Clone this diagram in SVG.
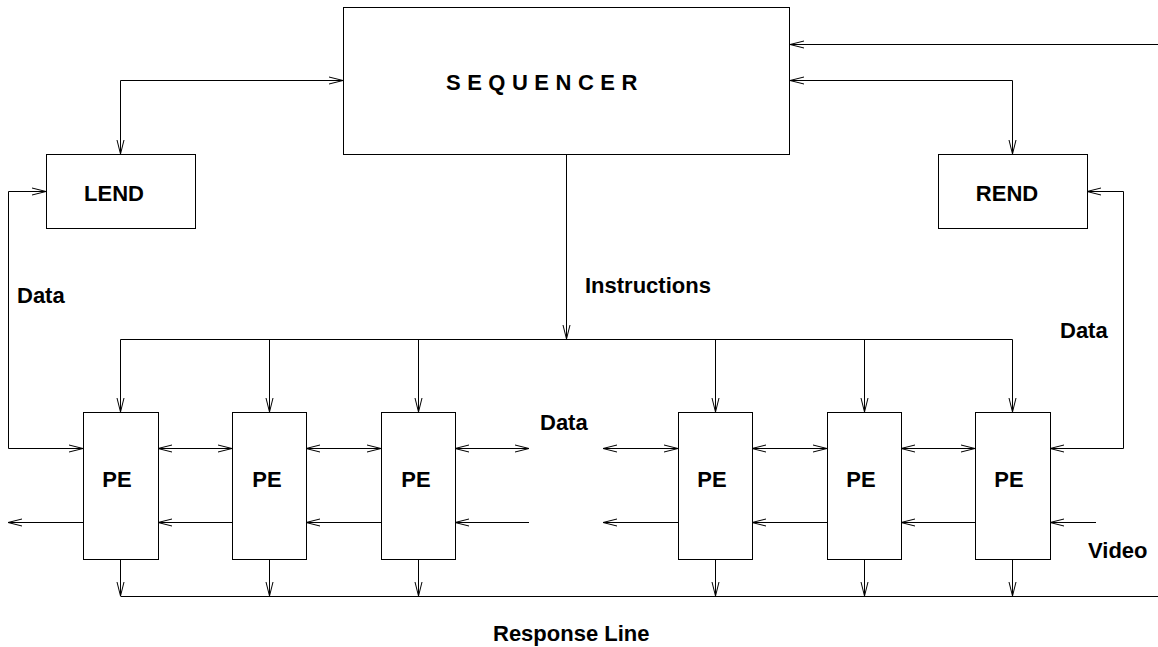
<svg xmlns="http://www.w3.org/2000/svg" width="1158" height="647" viewBox="0 0 1158 647">
<style>
.box{fill:#fff;stroke:#000;stroke-width:1}
.ln{fill:none;stroke:#000;stroke-width:1}
.a{marker-end:url(#ah)}
.aa{marker-start:url(#ah);marker-end:url(#ah)}
text{font-family:"Liberation Sans",Arial,sans-serif;font-weight:bold;font-size:22px;fill:#000}
.c{text-anchor:middle}
</style>
<defs>
<marker id="ah" markerUnits="userSpaceOnUse" viewBox="-15 -5 16 10" refX="0" refY="0" markerWidth="16" markerHeight="10" orient="auto-start-reverse">
<path d="M-14,-3.5 L0,0 L-14,3.5" fill="none" stroke="#000" stroke-width="1"/>
</marker>
</defs>
<rect width="1158" height="647" fill="#fff"/>
<g id="connectors">
<path class="ln aa" d="M343,80.5 H120.5 V154"/>
<path class="ln a" d="M1158,44.5 H790"/>
<path class="ln aa" d="M790,80.5 H1012.5 V154"/>
<path class="ln aa" d="M46,191.5 H8.5 V448.5 H83"/>
<path class="ln aa" d="M1087,191.5 H1123.5 V448.5 H1050"/>
<path class="ln a" d="M566.5,154 V339"/>
<path class="ln" d="M120.5,339.5 H1012.5"/>
<path class="ln a" d="M120.5,339.5 V412"/>
<path class="ln a" d="M269.5,339.5 V412"/>
<path class="ln a" d="M418.5,339.5 V412"/>
<path class="ln a" d="M715.5,339.5 V412"/>
<path class="ln a" d="M864.5,339.5 V412"/>
<path class="ln a" d="M1012.5,339.5 V412"/>
<path class="ln aa" d="M158,448.5 H232"/>
<path class="ln aa" d="M306,448.5 H381"/>
<path class="ln aa" d="M455,448.5 H529"/>
<path class="ln aa" d="M603,448.5 H678"/>
<path class="ln aa" d="M752,448.5 H827"/>
<path class="ln aa" d="M901,448.5 H975"/>
<path class="ln a" d="M83,522.5 H8"/>
<path class="ln a" d="M232,522.5 H158"/>
<path class="ln a" d="M381,522.5 H306"/>
<path class="ln a" d="M529,522.5 H455"/>
<path class="ln a" d="M678,522.5 H603"/>
<path class="ln a" d="M827,522.5 H752"/>
<path class="ln a" d="M975,522.5 H901"/>
<path class="ln a" d="M1096,522.5 H1050"/>
<path class="ln" d="M120.5,596.5 H1158"/>
<path class="ln a" d="M120.5,559 V596"/>
<path class="ln a" d="M269.5,559 V596"/>
<path class="ln a" d="M418.5,559 V596"/>
<path class="ln a" d="M715.5,559 V596"/>
<path class="ln a" d="M864.5,559 V596"/>
<path class="ln a" d="M1012.5,559 V596"/>
</g>
<g id="sequencer"><rect class="box" x="343.5" y="7.5" width="446" height="147"/><text x="446" y="90" letter-spacing="6.5">SEQUENCER</text></g>
<g id="lend"><rect class="box" x="46.5" y="154.5" width="149" height="74"/><text class="c" x="114" y="201">LEND</text></g>
<g id="rend"><rect class="box" x="938.5" y="154.5" width="149" height="74"/><text class="c" x="1007" y="201">REND</text></g>
<g id="pe1"><rect class="box" x="83.5" y="412.5" width="75" height="147"/><text class="c" x="117" y="487">PE</text></g>
<g id="pe2"><rect class="box" x="232.5" y="412.5" width="74" height="147"/><text class="c" x="267" y="487">PE</text></g>
<g id="pe3"><rect class="box" x="381.5" y="412.5" width="74" height="147"/><text class="c" x="416" y="487">PE</text></g>
<g id="pe4"><rect class="box" x="678.5" y="412.5" width="74" height="147"/><text class="c" x="712" y="487">PE</text></g>
<g id="pe5"><rect class="box" x="827.5" y="412.5" width="74" height="147"/><text class="c" x="861" y="487">PE</text></g>
<g id="pe6"><rect class="box" x="975.5" y="412.5" width="75" height="147"/><text class="c" x="1009" y="487">PE</text></g>
<g id="labels">
<text x="585" y="293">Instructions</text>
<text x="17" y="303">Data</text>
<text x="1060" y="338">Data</text>
<text x="540" y="430">Data</text>
<text x="1088" y="558">Video</text>
<text x="493" y="641">Response Line</text>
</g>
</svg>
